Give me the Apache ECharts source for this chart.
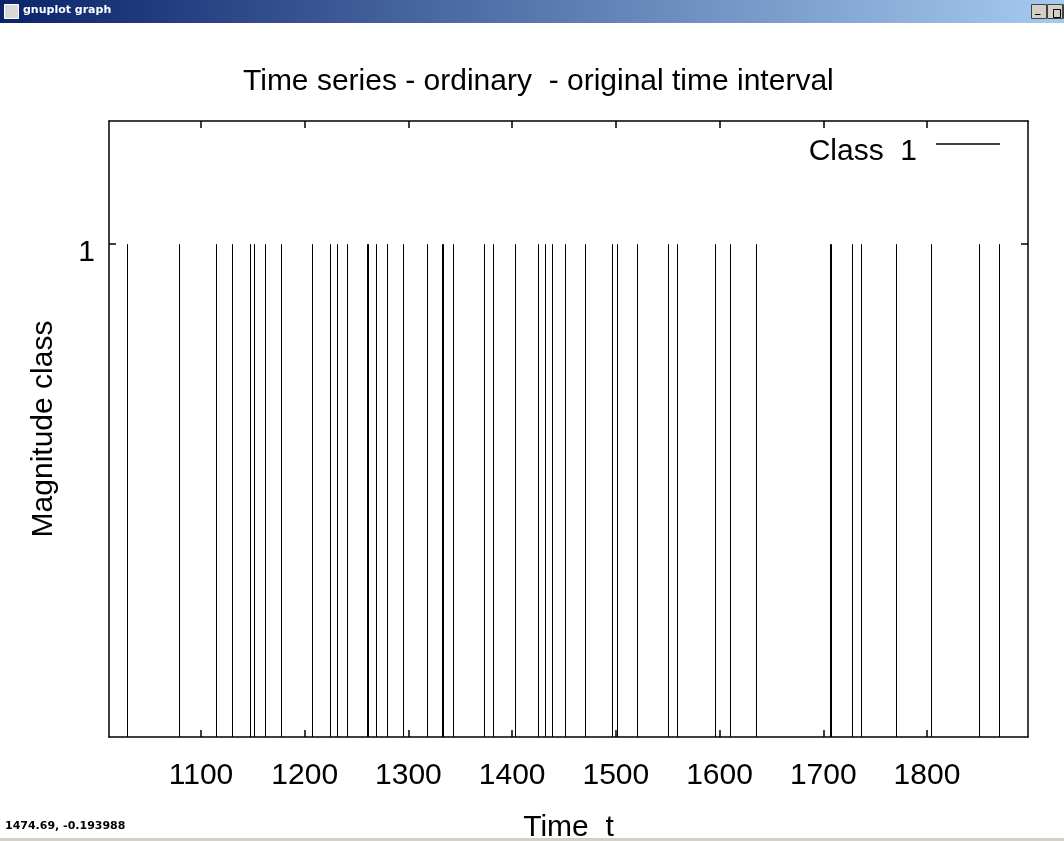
<!DOCTYPE html>
<html>
<head>
<meta charset="utf-8">
<title>Time series - ordinary - original time interval</title>
<script src="https://cdn.jsdelivr.net/npm/echarts@6/dist/echarts.min.js"></script>
<style>
  html, body { margin: 0; padding: 0; background: #ffffff; }
  #chart { width: 1064px; height: 841px; }
</style>
</head>
<body>
<div id="chart"></div>
<script>
// Event times (t) and their magnitude class, one impulse per event
const eventTimes = [
  1029.1, 1078.5, 1114.7, 1130.2, 1147.7, 1151.1, 1161.7, 1176.7, 1206.8, 1224.1,
  1231.2, 1241.0, 1260.0, 1260.8, 1269.1, 1279.0, 1279.8, 1294.4, 1317.7, 1332.1,
  1332.9, 1343.3, 1372.9, 1381.9, 1403.1, 1425.4, 1431.6, 1438.4, 1450.6, 1470.6,
  1496.3, 1500.8, 1520.8, 1550.3, 1559.0, 1595.8, 1610.0, 1635.1, 1706.6, 1707.4,
  1727.5, 1736.1, 1770.3, 1804.2, 1850.0, 1869.5
];
const eventClass = [
  1, 1, 1, 1, 1, 1, 1, 1, 1, 1,
  1, 1, 1, 1, 1, 1, 1, 1, 1, 1,
  1, 1, 1, 1, 1, 1, 1, 1, 1, 1,
  1, 1, 1, 1, 1, 1, 1, 1, 1, 1,
  1, 1, 1, 1, 1, 1
];
const xTicks = [1100, 1200, 1300, 1400, 1500, 1600, 1700, 1800];
const yTicks = [1];
const xRange = [1011.3, 1897.4];
const yRange = [0, 1.25];

const seriesName = 'Class  1';
const FONT = '"Liberation Sans", Arial, sans-serif';
const FS = 30;

const chart = echarts.init(document.getElementById('chart'), null, { renderer: 'canvas' });

const frameLine = { show: true, onZero: false, lineStyle: { color: '#000', width: 1.5 } };
const innerTick = (vals) => ({ show: true, inside: true, length: 7, customValues: vals, lineStyle: { color: '#000', width: 1.5 } });
const plain = (v) => String(v);

const option = {
  backgroundColor: '#ffffff',
  animation: false,
  title: {
    text: 'Time series - ordinary  - original time interval',
    left: 243,
    top: 67,
    padding: 0,
    textStyle: { fontFamily: FONT, fontSize: FS, fontWeight: 'normal', color: '#000' }
  },
  legend: {
    data: [seriesName],
    right: 59,
    top: 132,
    align: 'right',
    icon: 'rect',
    itemWidth: 64,
    itemHeight: 1.5,
    formatter: '{t|{name}}',
    textStyle: {
      fontFamily: FONT, fontSize: FS, color: '#000',
      rich: { t: { fontFamily: FONT, fontSize: FS, color: '#000', padding: [16, 14, 0, 0] } }
    }
  },
  grid: { left: 109, right: 36, top: 121, bottom: 104, containLabel: false, outerBoundsMode: 'none' },
  xAxis: [
    {
      type: 'value', position: 'bottom', min: xRange[0], max: xRange[1],
      name: 'Time  t', nameLocation: 'middle', nameGap: 76,
      nameTextStyle: { fontFamily: FONT, fontSize: FS, color: '#000' },
      axisLine: frameLine,
      axisTick: innerTick(xTicks),
      axisLabel: { customValues: xTicks, formatter: plain, margin: 24, fontFamily: FONT, fontSize: FS, color: '#000' },
      splitLine: { show: false }
    },
    {
      type: 'value', position: 'top', min: xRange[0], max: xRange[1],
      axisLine: frameLine,
      axisTick: innerTick(xTicks),
      axisLabel: { show: false },
      splitLine: { show: false }
    }
  ],
  yAxis: [
    {
      type: 'value', position: 'left', min: yRange[0], max: yRange[1],
      name: 'Magnitude class', nameLocation: 'middle', nameGap: 50,
      nameTextStyle: { fontFamily: FONT, fontSize: FS, color: '#000' },
      axisLine: frameLine,
      axisTick: innerTick(yTicks),
      axisLabel: {
        customValues: yTicks, margin: 14,
        formatter: (v) => '{v|' + v + '}',
        rich: { v: { fontFamily: FONT, fontSize: FS, color: '#000', padding: [18, 0, 0, 0] } }
      },
      splitLine: { show: false }
    },
    {
      type: 'value', position: 'right', min: yRange[0], max: yRange[1],
      axisLine: frameLine,
      axisTick: innerTick(yTicks),
      axisLabel: { show: false },
      splitLine: { show: false }
    }
  ],
  series: [
    {
      name: seriesName,
      type: 'custom',
      xAxisIndex: 0,
      yAxisIndex: 0,
      itemStyle: { color: '#000' },
      encode: { x: 0, y: 1 },
      data: eventTimes.map((t, i) => [t, eventClass[i]]),
      renderItem: function (params, api) {
        const top = api.coord([api.value(0), api.value(1)]);
        const base = api.coord([api.value(0), 0]);
        const x = Math.round(top[0]) + 0.5;
        return {
          type: 'line',
          shape: { x1: x, y1: top[1], x2: x, y2: base[1] },
          style: { stroke: '#000', lineWidth: 1 }
        };
      }
    }
  ],
  graphic: [
    // window caption bar
    {
      type: 'rect', left: 0, top: 0, z: 10,
      shape: { width: 1064, height: 23 },
      style: {
        fill: new echarts.graphic.LinearGradient(0, 0, 1, 0, [
          { offset: 0, color: '#0a246a' },
          { offset: 1, color: '#a6caf0' }
        ])
      }
    },
    { type: 'rect', left: 4, top: 4, z: 11, shape: { width: 14, height: 14 }, style: { fill: '#d8d8d8', stroke: '#ffffff', lineWidth: 1 } },
    { type: 'text', left: 23, top: 5, z: 11, style: { text: 'gnuplot graph', fill: '#ffffff', font: 'bold 11px "DejaVu Sans", sans-serif' } },
    { type: 'rect', left: 1031, top: 4, z: 11, shape: { width: 15, height: 14 }, style: { fill: '#d4d0c8', stroke: '#404040', lineWidth: 1 } },
    { type: 'rect', left: 1047, top: 4, z: 11, shape: { width: 15, height: 14 }, style: { fill: '#d4d0c8', stroke: '#404040', lineWidth: 1 } },
    { type: 'rect', left: 1063, top: 4, z: 11, shape: { width: 15, height: 14 }, style: { fill: '#d4d0c8', stroke: '#404040', lineWidth: 1 } },
    { type: 'text', left: 1035, top: 4, z: 12, style: { text: '_', fill: '#000', font: 'bold 11px "DejaVu Sans", sans-serif' } },
    { type: 'rect', left: 1051, top: 7, z: 12, shape: { width: 7, height: 8 }, style: { fill: 'none', stroke: '#000', lineWidth: 1 } },
    // pointer position readout and status bar
    { type: 'text', left: 5, top: 821, z: 11, style: { text: '1474.69, -0.193988', fill: '#000', font: 'bold 11px "DejaVu Sans", sans-serif' } },
    { type: 'rect', left: 0, top: 838, z: 10, shape: { width: 1064, height: 3 }, style: { fill: '#d4d0c8' } }
  ]
};

chart.setOption(option);
</script>
</body>
</html>
